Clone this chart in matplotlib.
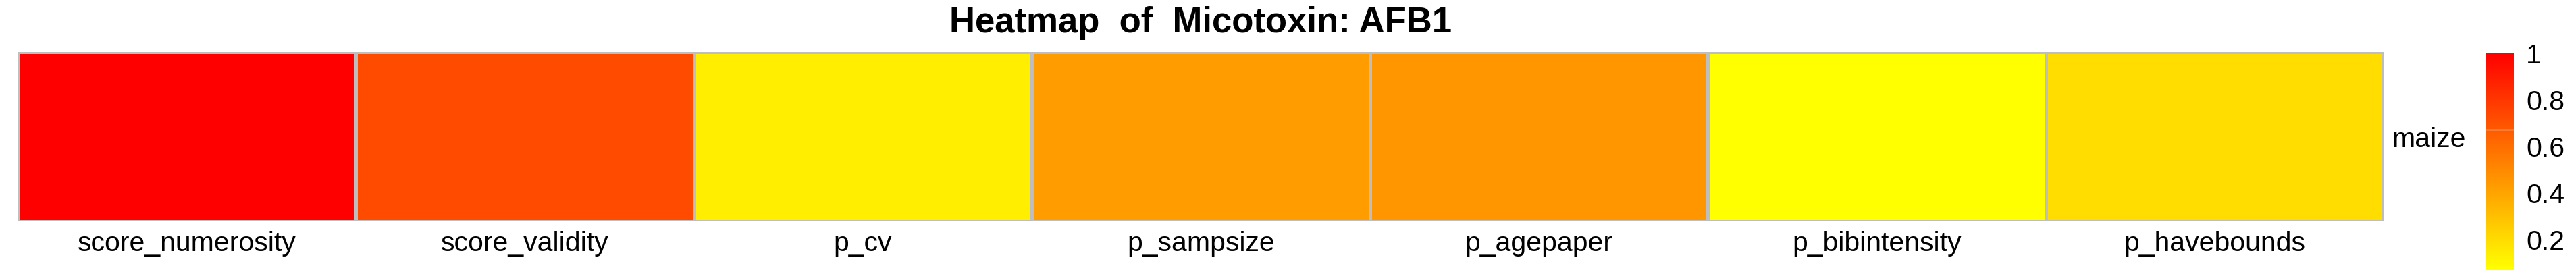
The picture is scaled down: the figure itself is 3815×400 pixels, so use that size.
import numpy as np
import matplotlib
matplotlib.use("Agg")
import matplotlib.pyplot as plt
from matplotlib.colors import LinearSegmentedColormap, Normalize
from matplotlib.cm import ScalarMappable
import matplotlib.transforms as mtransforms

plt.rcParams['font.family'] = ['Liberation Sans', 'DejaVu Sans']

# ---- data ----
columns = ["score_numerosity", "score_validity", "p_cv", "p_sampsize",
           "p_agepaper", "p_bibintensity", "p_havebounds"]
rows = ["maize"]
values = [1.0, 0.727, 0.132, 0.427, 0.453, 0.07, 0.194]
cbar_ticks = [0.2, 0.4, 0.6, 0.8, 1.0]
cbar_ticklabels = ["0.2", "0.4", "0.6", "0.8", "1"]
title = "Heatmap  of  Micotoxin: AFB1"

W, H = 3816, 400
fig = plt.figure(figsize=(W / 100, H / 100), dpi=100)

cmap = LinearSegmentedColormap.from_list("yr", ["#FFFF00", "#FF0000"])
norm = Normalize(vmin=0.07, vmax=1.0)

# heatmap axes
left, right, top, bottom = 27, 3530, 77, 328
ax = fig.add_axes([left / W, 1 - bottom / H, (right - left) / W, (bottom - top) / H])
data = np.array([values])
ax.pcolormesh(np.arange(len(columns) + 1), np.arange(len(rows) + 1), data,
              cmap=cmap, norm=norm, edgecolors='#BEBEBE', linewidth=2.2)
ax.set_xlim(0, len(columns))
ax.set_ylim(0, len(rows))
ax.set_xticks([])
ax.set_yticks([])
for s in ax.spines.values():
    s.set_visible(False)

lab_fs = 29.5
trans = mtransforms.blended_transform_factory(ax.transData, ax.transAxes)
for i, c in enumerate(columns):
    ax.text(i + 0.5, (bottom - 372) / (bottom - top), c, transform=trans,
            ha='center', va='baseline', fontsize=lab_fs, color='black')

# row label
fig.text(3542 / W, 1 - 218 / H, rows[0], ha='left', va='baseline',
         fontsize=lab_fs, color='black')

# title
fig.text((left + right) / 2 / W, 1 - 48 / H, title, ha='center', va='baseline',
         fontsize=38, fontweight='bold', color='black')

# colorbar
cax = fig.add_axes([3681 / W, 0.0, (3723 - 3681) / W, (H - 79) / H])
sm = ScalarMappable(norm=norm, cmap=cmap)
cb = fig.colorbar(sm, cax=cax)
cb.outline.set_visible(False)
cb.set_ticks(cbar_ticks)
cb.set_ticklabels(cbar_ticklabels)
cax.tick_params(length=0, pad=13, labelsize=lab_fs)
cax.axhline(0.672, color='white', lw=1.0)

fig.savefig("out.png", dpi=100, facecolor='white')
